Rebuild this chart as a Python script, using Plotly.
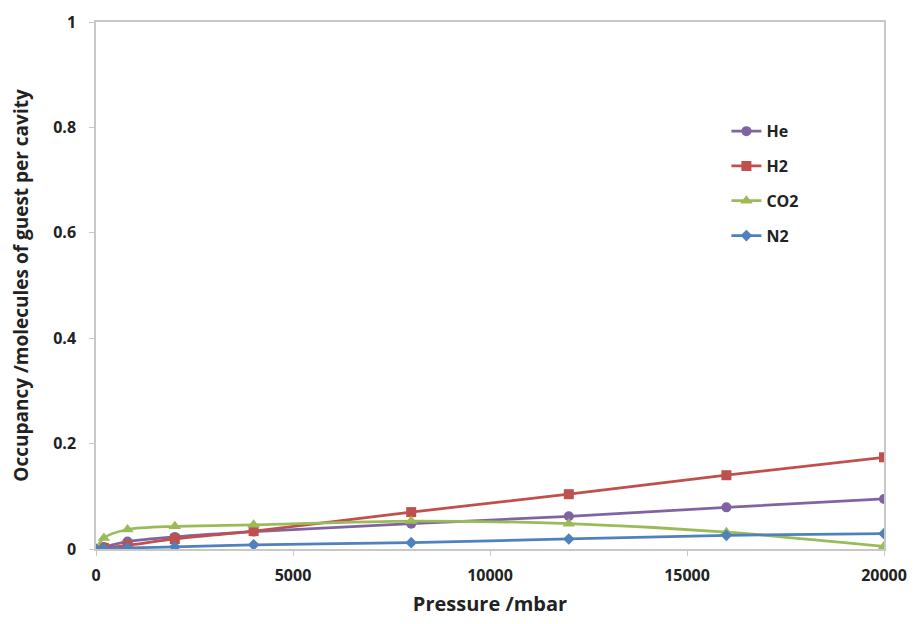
import plotly.graph_objects as go

pressure = [0, 200, 800, 2000, 4000, 8000, 12000, 16000, 20000]
he = [0, 0.004, 0.014, 0.023, 0.033, 0.048, 0.062, 0.079, 0.095]
h2 = [0, 0.002, 0.007, 0.019, 0.034, 0.070, 0.104, 0.140, 0.174]
co2 = [0, 0.021, 0.037, 0.043, 0.046, 0.053, 0.048, 0.032, 0.005]
n2 = [0, 0.001, 0.002, 0.004, 0.008, 0.012, 0.019, 0.026, 0.029]

x_ticks = [0, 5000, 10000, 15000, 20000]
x_ticktext = ["0", "5000", "10000", "15000", "20000"]
y_ticks = [0, 0.2, 0.4, 0.6, 0.8, 1]
y_ticktext = ["0", "0.2", "0.4", "0.6", "0.8", "1"]

series = [
    ("He", he, "#8064A2", "circle", 10),
    ("H2", h2, "#C0504D", "square", 10),
    ("CO2", co2, "#9BBB59", "triangle-up", 11),
    ("N2", n2, "#4F81BD", "diamond", 9),
]

fig = go.Figure()
for name, vals, col, sym, sz in series:
    fig.add_trace(go.Scatter(
        x=pressure, y=vals, name=name, mode="lines+markers",
        line=dict(color=col, width=2.75, shape="spline", smoothing=0.8),
        marker=dict(symbol=sym, size=sz, color=col),
        legendgroup=name,
    ))

font_fam = "Open Sans, Liberation Sans, sans-serif"
fig.update_layout(
    width=916, height=624,
    margin=dict(l=96, r=32, t=22, b=75),
    plot_bgcolor="white", paper_bgcolor="white",
    font=dict(family=font_fam, color="#222222"),
    legend=dict(x=0.80, y=0.825, xanchor="left", yanchor="top",
                font=dict(size=16, color="#222222", family=font_fam, weight="bold"),
                tracegroupgap=11, bgcolor="rgba(0,0,0,0)", itemwidth=30),
    showlegend=True,
)
fig.update_xaxes(
    range=[0, 20000], tickvals=x_ticks, ticktext=x_ticktext, automargin=False,
    showgrid=False, zeroline=False,
    showline=True, linecolor="#C8C8C8", linewidth=1.5, mirror=True,
    ticks="outside", ticklen=5, tickcolor="#C8C8C8", ticklabelstandoff=6,
    tickfont=dict(size=16, family=font_fam, weight="bold", color="#222222"),
    title=dict(text="Pressure /mbar", font=dict(size=20, family=font_fam, weight="bold", color="#222222"), standoff=12),
)
fig.update_yaxes(
    range=[0, 1], tickvals=y_ticks, ticktext=y_ticktext, automargin=False,
    showgrid=False, zeroline=False,
    showline=True, linecolor="#C8C8C8", linewidth=1.5, mirror=True,
    ticks="outside", ticklen=5, tickcolor="#C8C8C8", ticklabelstandoff=10,
    tickfont=dict(size=16, family=font_fam, weight="bold", color="#222222"),
    title=dict(text="Occupancy /molecules of guest per cavity", font=dict(size=19, family=font_fam, weight="bold", color="#222222"), standoff=20),
)
fig.write_html("out.html")
